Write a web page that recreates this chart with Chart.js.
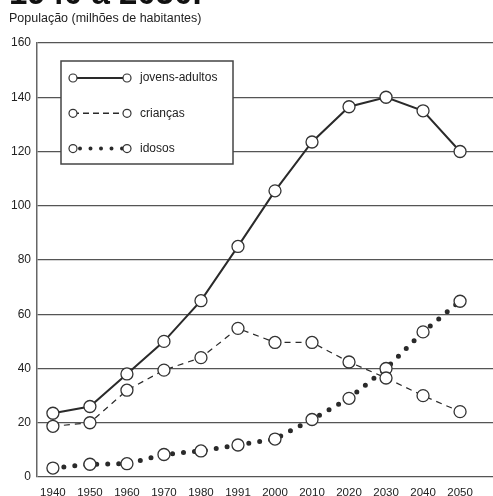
<!DOCTYPE html>
<html>
<head>
<meta charset="utf-8">
<script src="https://cdn.jsdelivr.net/npm/chart.js@4"></script>
<style>
  html, body { margin: 0; padding: 0; background: #fff; }
</style>
</head>
<body>
<canvas id="grafico" width="493" height="496"></canvas>
<script>
// Dados (milhões de habitantes)
const anos = ['1940', '1950', '1960', '1970', '1980', '1991', '2000', '2010', '2020', '2030', '2040', '2050'];
const jovensAdultos = [23.5, 26, 38, 50, 65, 85, 105.5, 123.5, 136.5, 140, 135, 120];
const criancas = [18.7, 20, 32, 39.4, 44, 54.8, 49.6, 49.6, 42.4, 36.5, 30, 24.1];
const idosos = [3.3, 4.7, 4.9, 8.3, 9.6, 11.8, 14, 21.2, 29, 40, 53.5, 64.8];
const nomesSeries = ['jovens-adultos', 'crianças', 'idosos'];
const tituloEixo = 'População (milhões de habitantes)';
const tituloCortado = '1940 a 2050.';

const fonte = '"Liberation Sans", Arial, sans-serif';
const corTraco = '#2a2a2a';

const pontos = (valores) => valores.map((v, i) => ({ x: i, y: v }));

// Cabeçalho: título cortado no topo e legenda do eixo
const cabecalho = {
    id: 'cabecalho',
    afterDraw(chart) {
        const ctx = chart.ctx;
        ctx.save();
        ctx.fillStyle = '#111';
        ctx.font = 'bold 33px ' + fonte;
        ctx.textBaseline = 'alphabetic';
        ctx.fillText(tituloCortado, 9, 4);
        ctx.fillStyle = '#222';
        ctx.font = '12.5px ' + fonte;
        ctx.textBaseline = 'middle';
        ctx.fillText(tituloEixo, 9, 18.5);
        ctx.restore();
    }
};

// Legenda em caixa, com amostras de linha e marcadores nas pontas
const legendaCaixa = {
    id: 'legendaCaixa',
    afterDraw(chart) {
        const ctx = chart.ctx;
        ctx.save();
        ctx.fillStyle = '#fff';
        ctx.fillRect(61, 61, 172, 103);
        ctx.strokeStyle = '#444';
        ctx.lineWidth = 1.5;
        ctx.strokeRect(61, 61, 172, 103);

        const estilos = [
            { dash: [], largura: 2, cap: 'butt' },
            { dash: [6, 4], largura: 1.5, cap: 'butt' },
            { dash: [0, 10.5], largura: 4, cap: 'round' }
        ];
        nomesSeries.forEach((nome, i) => {
            const y = 78 + i * 35.3;
            const e = estilos[i];
            ctx.beginPath();
            ctx.setLineDash(e.dash);
            ctx.lineCap = e.cap;
            ctx.lineWidth = e.largura;
            ctx.strokeStyle = corTraco;
            ctx.moveTo(i === 2 ? 80 : 73, y);
            ctx.lineTo(127, y);
            ctx.stroke();
            ctx.setLineDash([]);
            ctx.lineCap = 'butt';
            [73, 127].forEach(x => {
                ctx.beginPath();
                ctx.arc(x, y, 4, 0, Math.PI * 2);
                ctx.fillStyle = '#fff';
                ctx.fill();
                ctx.lineWidth = 1.2;
                ctx.strokeStyle = '#333';
                ctx.stroke();
            });
            ctx.fillStyle = '#222';
            ctx.font = '12px ' + fonte;
            ctx.textBaseline = 'middle';
            ctx.fillText(nome, 140, y);
        });
        ctx.restore();
    }
};

const marcador = {
    pointRadius: 6,
    pointHoverRadius: 6,
    pointBackgroundColor: '#fff',
    pointBorderColor: '#333',
    pointBorderWidth: 1.3,
    tension: 0
};

new Chart(document.getElementById('grafico'), {
    type: 'line',
    data: {
        datasets: [
            {
                label: nomesSeries[0],
                data: pontos(jovensAdultos),
                borderColor: corTraco,
                borderWidth: 2,
                ...marcador
            },
            {
                label: nomesSeries[1],
                data: pontos(criancas),
                borderColor: corTraco,
                borderWidth: 1.2,
                borderDash: [6, 5],
                ...marcador
            },
            {
                label: nomesSeries[2],
                data: pontos(idosos),
                borderColor: corTraco,
                borderWidth: 5,
                borderDash: [0, 11],
                borderCapStyle: 'round',
                ...marcador
            }
        ]
    },
    options: {
        responsive: false,
        animation: false,
        layout: { autoPadding: false, padding: { top: 43, right: 0, left: 0, bottom: 0 } },
        plugins: {
            legend: { display: false },
            title: { display: false },
            tooltip: { enabled: false }
        },
        scales: {
            x: {
                type: 'linear',
                min: -0.43,
                max: 11.89,
                grid: { display: false },
                border: { display: false },
                afterFit(scale) { scale.height = 19; },
                ticks: {
                    stepSize: 1,
                    includeBounds: false,
                    autoSkip: false,
                    maxRotation: 0,
                    padding: 1,
                    color: '#222',
                    font: { family: fonte, size: 11.5 },
                    callback: (v) => anos[v] ?? ''
                }
            },
            y: {
                min: 0,
                max: 160,
                afterFit(scale) { scale.width = 37; },
                grid: { color: '#555', lineWidth: 1.2, drawTicks: false },
                border: { display: true, color: '#666', width: 1.5 },
                ticks: {
                    stepSize: 20,
                    padding: 6,
                    color: '#222',
                    font: { family: fonte, size: 12 }
                }
            }
        }
    },
    plugins: [cabecalho, legendaCaixa]
});
</script>
</body>
</html>
